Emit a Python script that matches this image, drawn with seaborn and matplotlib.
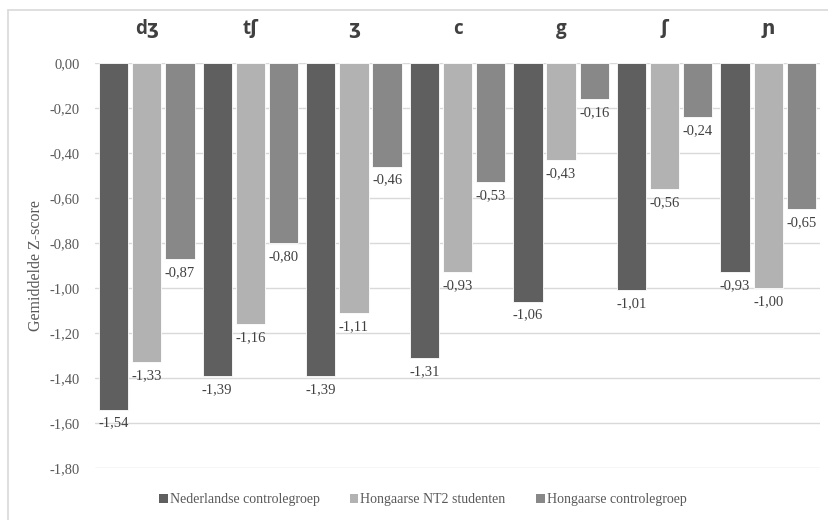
import matplotlib
matplotlib.use("Agg")
import matplotlib.pyplot as plt
import seaborn as sns
import pandas as pd
from matplotlib.lines import Line2D
from matplotlib.patches import Patch

# Mean Z-scores per sound and group
sounds = ["dʒ", "tʃ", "ʒ", "c", "g", "ʃ", "ɲ"]
groups = ["Nederlandse controlegroep", "Hongaarse NT2 studenten", "Hongaarse controlegroep"]
nl_control = [-1.54, -1.39, -1.39, -1.31, -1.06, -1.01, -0.93]
hu_nt2 = [-1.33, -1.16, -1.11, -0.93, -0.43, -0.56, -1.00]
hu_control = [-0.87, -0.80, -0.46, -0.53, -0.16, -0.24, -0.65]
yticks = [0.0, -0.2, -0.4, -0.6, -0.8, -1.0, -1.2, -1.4, -1.6, -1.8]

colors = ["#5f5f5f", "#b2b2b2", "#888888"]
text_color = "#595959"

df = pd.DataFrame({
    "klank": sounds * 3,
    "groep": [g for g in groups for _ in sounds],
    "z": nl_control + hu_nt2 + hu_control,
})

sns.set_theme(style="white")
plt.rcParams["font.family"] = ["Liberation Serif", "DejaVu Serif"]

fig = plt.figure(figsize=(8.29, 5.20), dpi=100)
ax = fig.add_axes([95 / 829, 1 - 468 / 520, (820 - 95) / 829, (468 - 63) / 520])

sns.barplot(data=df, x="klank", y="z", hue="groep", order=sounds, hue_order=groups,
            palette=colors, width=0.96, gap=0.12, ax=ax, legend=False,
            edgecolor="white", linewidth=0.6, zorder=3)

ax.set_ylim(-1.8, 0)
ax.set_xlim(-0.5, len(sounds) - 0.5)
ax.set_yticks(yticks)
ax.set_yticklabels([f"{v:.2f}".replace(".", ",") if v != 0 else "0,00" for v in yticks],
                   fontsize=10.5, color=text_color)
ax.grid(axis="y", color="#d9d9d9", linewidth=1, zorder=0)
ax.set_axisbelow(True)
for s in ax.spines.values():
    s.set_visible(False)
ax.tick_params(axis="y", length=0, pad=11)

# Sound labels above the plot
ax.xaxis.set_ticks_position("top")
ax.tick_params(axis="x", length=0, pad=17)
ax.set_xticks(range(len(sounds)))
ax.set_xticklabels(sounds, fontsize=13.5, fontweight="bold", color="#404040",
                   family=["Open Sans", "DejaVu Sans"])
ax.set_xlabel("")
ax.set_ylabel("Gemiddelde Z-score", fontsize=11.5, color=text_color, labelpad=4)

# Value labels under each bar
for container in ax.containers:
    for bar in container:
        h = bar.get_height()
        ax.annotate(f"{h:.2f}".replace(".", ","),
                    (bar.get_x() + bar.get_width() / 2, h),
                    xytext=(0, -5), textcoords="offset points",
                    ha="center", va="top", fontsize=10.5, color="#404040",
                    annotation_clip=False)

# Legend
handles = [Patch(facecolor=c, edgecolor="none") for c in colors]
fig.legend(handles, groups, loc="center", bbox_to_anchor=(0.51, 1 - 500 / 520),
           ncol=3, frameon=False, fontsize=10, labelcolor=text_color,
           handlelength=0.6, handleheight=0.6, handletextpad=0.15, columnspacing=2.2)

# Chart area frame
fig.add_artist(Line2D([8 / 829, 1.0], [1 - 10 / 520, 1 - 10 / 520], color="#d9d9d9", lw=1.2,
                      transform=fig.transFigure))
fig.add_artist(Line2D([8 / 829, 8 / 829], [0, 1 - 10 / 520], color="#d9d9d9", lw=1.2,
                      transform=fig.transFigure))

fig.savefig("out.png", dpi=100)
